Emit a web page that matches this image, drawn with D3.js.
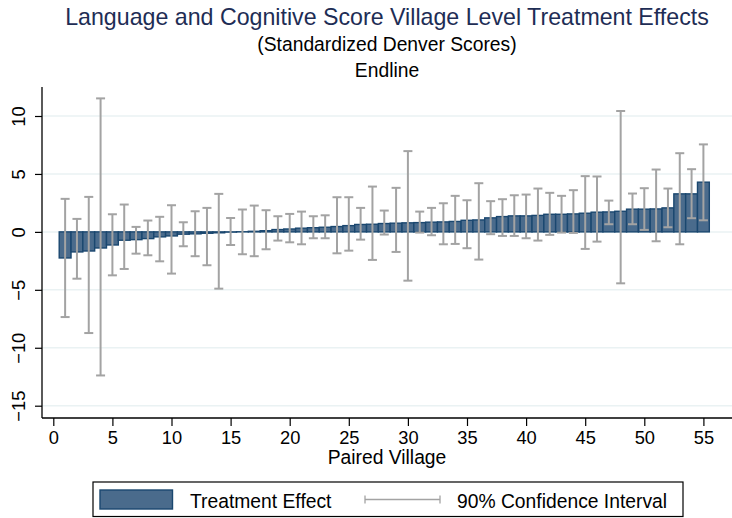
<!DOCTYPE html>
<html>
<head>
<meta charset="utf-8">
<script src="https://cdn.jsdelivr.net/npm/d3@7"></script>
<style>
  body { margin: 0; background: #fff; }
  text { font-family: "Liberation Sans", Arial, sans-serif; }
</style>
</head>
<body>
<div id="chart"></div>
<script>
// sorted village-level treatment effects, with 90% CI bounds
var villages = d3.range(1, 56);
var effect = [-2.25, -1.73, -1.65, -1.39, -1.13, -0.72, -0.67, -0.58, -0.43, -0.35,
  -0.2, -0.17, -0.12, -0.08, -0.02, 0.01, 0.05, 0.1, 0.2, 0.25,
  0.32, 0.36, 0.4, 0.46, 0.54, 0.64, 0.66, 0.72, 0.75, 0.78,
  0.8, 0.84, 0.86, 0.9, 1.0, 1.03, 1.21, 1.32, 1.38, 1.38,
  1.42, 1.52, 1.52, 1.55, 1.61, 1.7, 1.72, 1.78, 1.96, 1.96,
  1.98, 2.07, 3.28, 3.28, 4.29];
var ciLow = [-7.35, -4.04, -8.73, -12.39, -3.75, -3.2, -1.88, -2.02, -2.54, -3.6,
  -1.24, -2.1, -2.88, -4.9, -1.13, -1.93, -2.1, -1.5, -0.75, -0.9,
  -1.07, -0.55, -0.55, -1.85, -1.62, -0.67, -2.42, -0.23, -1.73, -4.21,
  -0.06, -0.29, -1.07, -1.04, -1.41, -2.39, -0.2, -0.35, -0.35, -0.55,
  -0.75, -0.26, -0.06, -0.09, -1.47, -0.84, 0.66, -4.44, 0.66, 0.17,
  -0.81, 0.4, -1.07, 1.18, 1.0];
var ciHigh = [2.85, 1.12, 3.02, 11.52, 1.52, 2.36, 0.43, 0.98, 1.3, 2.3,
  0.83, 1.78, 2.07, 3.28, 1.2, 1.93, 2.27, 1.87, 1.35, 1.55,
  1.75, 1.35, 1.43, 2.99, 2.99, 2.07, 3.91, 1.84, 3.8, 6.97,
  1.75, 2.07, 2.47, 3.11, 2.73, 4.2, 2.65, 2.82, 3.16, 3.22,
  3.74, 3.37, 3.11, 3.6, 4.81, 4.78, 2.7, 10.43, 3.31, 3.77,
  5.38, 3.74, 6.79, 5.41, 7.55];

var xTicks = [0, 5, 10, 15, 20, 25, 30, 35, 40, 45, 50, 55];
var yTicks = [-15, -10, -5, 0, 5, 10];
var legendLabels = ['Treatment Effect', '90% Confidence Interval'];

var W = 732, H = 518;
var plot = { left: 42, right: 732, top: 87, bottom: 418 };

var data = villages.map(function (v, i) {
  return { village: v, effect: effect[i], lo: ciLow[i], hi: ciHigh[i] };
});

var x = d3.scaleLinear().domain([0, 55]).range([53.3, 703.4]);
var y = d3.scaleLinear().domain([10, -15]).range([116, 405.7]);

var svg = d3.select('#chart').append('svg').
attr('width', W).
attr('height', H);

// titles
svg.append('text').
attr('x', 387).attr('y', 25).
attr('text-anchor', 'middle').
style('font-size', '23.2px').
style('fill', '#1e2d55').
text('Language and Cognitive Score Village Level Treatment Effects');

svg.append('text').
attr('x', 387).attr('y', 51).
attr('text-anchor', 'middle').
style('font-size', '19.3px').
text('(Standardized Denver Scores)');

svg.append('text').
attr('x', 387).attr('y', 77).
attr('text-anchor', 'middle').
style('font-size', '19.3px').
text('Endline');

// gridlines
svg.append('g').selectAll('line').
data(yTicks).
enter().append('line').
attr('x1', plot.left).attr('x2', plot.right).
attr('y1', function (d) {return y(d);}).
attr('y2', function (d) {return y(d);}).
style('stroke', '#eaf2f3').
style('stroke-width', 1.5);

// bars
var bw = x(1) - x(0);
svg.append('g').selectAll('rect').
data(data).
enter().append('rect').
attr('x', function (d) {return x(d.village) - bw / 2;}).
attr('width', bw).
attr('y', function (d) {return y(Math.max(0, d.effect));}).
attr('height', function (d) {return Math.abs(y(d.effect) - y(0));}).
style('fill', '#4a6b8c').
style('stroke', '#1a476f').
style('stroke-width', 1.4);

// confidence intervals
var ci = svg.append('g').selectAll('g').
data(data).
enter().append('g').
style('stroke', '#a3a3a3').
style('stroke-width', 2);

ci.append('line').
attr('x1', function (d) {return x(d.village);}).
attr('x2', function (d) {return x(d.village);}).
attr('y1', function (d) {return y(d.lo);}).
attr('y2', function (d) {return y(d.hi);});

ci.append('line').
attr('x1', function (d) {return x(d.village) - 4.5;}).
attr('x2', function (d) {return x(d.village) + 4.5;}).
attr('y1', function (d) {return y(d.hi);}).
attr('y2', function (d) {return y(d.hi);});

ci.append('line').
attr('x1', function (d) {return x(d.village) - 4.5;}).
attr('x2', function (d) {return x(d.village) + 4.5;}).
attr('y1', function (d) {return y(d.lo);}).
attr('y2', function (d) {return y(d.lo);});

// axes
var xAxis = d3.axisBottom(x).tickValues(xTicks).tickSize(8).tickPadding(4).tickSizeOuter(0);
var gx = svg.append('g').
attr('transform', 'translate(0,' + plot.bottom + ')').
call(xAxis);
gx.select('.domain').attr('d', 'M' + plot.left + ',0H' + plot.right);
gx.selectAll('text').style('font-size', '18.3px').style('fill', '#000').attr('dy', null).attr('y', 26);

var yAxis = d3.axisLeft(y).tickValues(yTicks).tickSize(7).tickSizeOuter(0);
var gy = svg.append('g').
attr('transform', 'translate(' + plot.left + ',0)').
call(yAxis);
gy.select('.domain').attr('d', 'M0,' + plot.top + 'V' + plot.bottom);
gy.selectAll('text').
attr('x', null).attr('dy', null).
attr('transform', 'translate(-17,0) rotate(-90)').
attr('text-anchor', 'middle').
style('font-size', '18.3px').style('fill', '#000');
svg.selectAll('.domain').style('stroke', '#000').style('stroke-width', 1.3);
svg.selectAll('.tick line').style('stroke', '#000').style('stroke-width', 1.2);

svg.append('text').
attr('x', 387).attr('y', 464).
attr('text-anchor', 'middle').
style('font-size', '19.3px').
text('Paired Village');

// legend
var lg = svg.append('g');
lg.append('rect').
attr('x', 93).attr('y', 482).
attr('width', 590).attr('height', 34.5).
style('fill', '#fff').
style('stroke', '#000').
style('stroke-width', 1.2);

lg.append('rect').
attr('x', 100).attr('y', 490).
attr('width', 72.5).attr('height', 19).
style('fill', '#4a6b8c').
style('stroke', '#1a476f').
style('stroke-width', 1.4);

lg.append('text').
attr('x', 190).attr('y', 507.5).
style('font-size', '19.3px').
text(legendLabels[0]);

var ly = 499.5;
lg.append('line').attr('x1', 365).attr('x2', 440).attr('y1', ly).attr('y2', ly);
lg.append('line').attr('x1', 365).attr('x2', 365).attr('y1', ly - 4).attr('y2', ly + 4);
lg.append('line').attr('x1', 440).attr('x2', 440).attr('y1', ly - 4).attr('y2', ly + 4);
lg.selectAll('line').style('stroke', '#a3a3a3').style('stroke-width', 1.3);

lg.append('text').
attr('x', 457).attr('y', 507.5).
style('font-size', '19.3px').
text(legendLabels[1]);
</script>
</body>
</html>
